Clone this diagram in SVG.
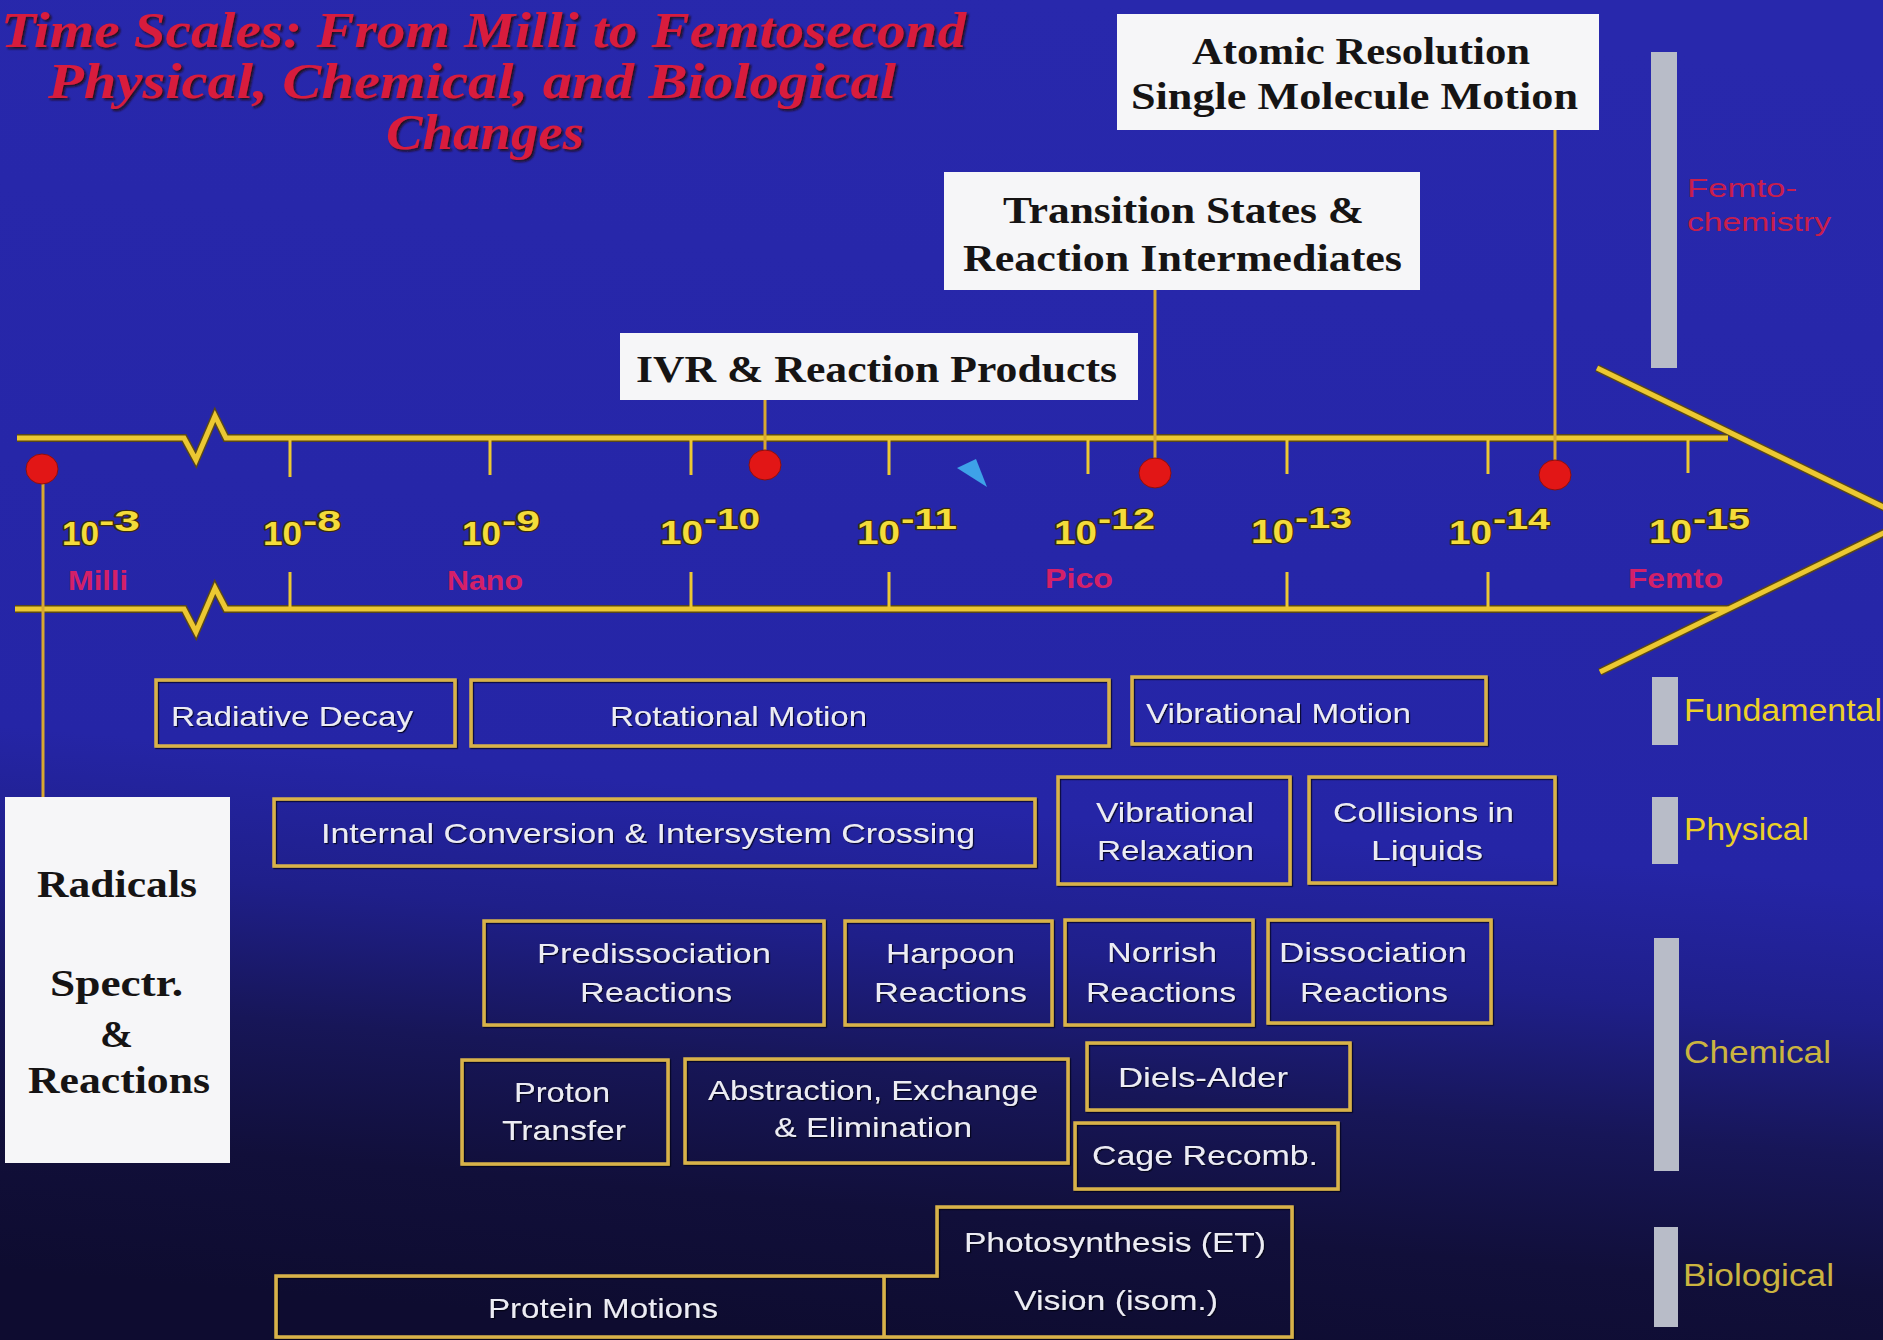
<svg xmlns="http://www.w3.org/2000/svg" width="1883" height="1340" viewBox="0 0 1883 1340">
<defs>
<linearGradient id="bg" x1="0.56" y1="0" x2="0.44" y2="1">
<stop offset="0" stop-color="#2828ac"/>
<stop offset="0.6" stop-color="#2525a6"/>
<stop offset="0.7" stop-color="#1f1f8a"/>
<stop offset="0.8" stop-color="#171658"/>
<stop offset="0.9" stop-color="#110f3a"/>
<stop offset="1" stop-color="#0e0c30"/>
</linearGradient>
<filter id="sh" x="-5%" y="-20%" width="110%" height="140%">
<feDropShadow dx="2" dy="2" stdDeviation="0.8" flood-color="#1a0810" flood-opacity="0.9"/>
</filter>
<filter id="tsh" x="-5%" y="-20%" width="110%" height="140%">
<feDropShadow dx="1.2" dy="1.2" stdDeviation="0.6" flood-color="#000010" flood-opacity="0.8"/>
</filter>
<style>
.title{font-family:"Liberation Serif","Times New Roman",serif;font-weight:bold;font-style:italic;font-size:50px;fill:#d81c3c}
.wb{fill:#f6f6f8}
.wt{font-family:"Liberation Serif","Times New Roman",serif;font-weight:bold;font-size:38px;fill:#161414}
.rt{font-family:"Liberation Serif","Times New Roman",serif;font-weight:bold;font-size:37px;fill:#161414}
.bx{fill:none;stroke:#d8b24a;stroke-width:3.5}
.bt{font-family:"Liberation Sans",Arial,sans-serif;font-size:28px;fill:#ececf4}
.tlo{fill:none;stroke:#5a4818;stroke-width:8;stroke-linejoin:miter}
.tl{fill:none;stroke:#ecc832;stroke-width:5;stroke-linejoin:miter}
.tick{stroke:#ecc832;stroke-width:3}
.conn{stroke:#d8a830;stroke-width:3;fill:none}
.dot{fill:#e21616;stroke:#8a1010;stroke-width:1}
.exp{font-family:"Liberation Sans",Arial,sans-serif;font-weight:bold;font-size:34px;fill:#f4dc3a;stroke:#3a2c10;stroke-width:2.5;paint-order:stroke;stroke-linejoin:round}
.sup{font-size:29px}
.unit{font-family:"Liberation Sans",Arial,sans-serif;font-weight:bold;font-size:28px;fill:#d42068}
.cat{font-family:"Liberation Sans",Arial,sans-serif;font-size:32px;fill:#ecd028}
.catd{font-family:"Liberation Sans",Arial,sans-serif;font-size:32px;fill:#cbb440}
.fc{font-family:"Liberation Sans",Arial,sans-serif;font-size:26px;fill:#c81e4c}
.bar{fill:#b8bcc8}
</style>
</defs>
<rect x="0" y="0" width="1883" height="1340" fill="url(#bg)"/>

<g id="title" filter="url(#sh)">
<text class="title" x="1" y="47" textLength="965" lengthAdjust="spacingAndGlyphs">Time Scales: From Milli to Femtosecond</text>
<text class="title" x="48" y="98" textLength="848" lengthAdjust="spacingAndGlyphs">Physical, Chemical, and Biological</text>
<text class="title" x="386" y="149" textLength="198" lengthAdjust="spacingAndGlyphs">Changes</text>
</g>

<g id="timeline">
<path class="tlo" d="M17 438 H184 L196 460 L215 416 L226 438 H1728"/>
<path class="tlo" d="M15 609 H184 L196 632 L215 588 L226 609 H1728"/>
<path class="tlo" d="M1597 368 L1910 520 L1600 672"/>
<path class="tl" d="M17 438 H184 L196 460 L215 416 L226 438 H1728"/>
<path class="tl" d="M15 609 H184 L196 632 L215 588 L226 609 H1728"/>
<path class="tl" d="M1597 368 L1910 520 L1600 672"/>
<g class="tick">
<line x1="290" y1="438" x2="290" y2="477"/>
<line x1="490" y1="438" x2="490" y2="475"/>
<line x1="691" y1="438" x2="691" y2="475"/>
<line x1="889" y1="438" x2="889" y2="475"/>
<line x1="1088" y1="438" x2="1088" y2="474"/>
<line x1="1287" y1="438" x2="1287" y2="474"/>
<line x1="1488" y1="438" x2="1488" y2="474"/>
<line x1="1688" y1="438" x2="1688" y2="473"/>
<line x1="290" y1="572" x2="290" y2="609"/>
<line x1="691" y1="572" x2="691" y2="609"/>
<line x1="889" y1="572" x2="889" y2="609"/>
<line x1="1287" y1="572" x2="1287" y2="609"/>
<line x1="1488" y1="572" x2="1488" y2="609"/>
</g>
<g id="scale-labels" class="exp">
<text x="62" y="545" textLength="37" lengthAdjust="spacingAndGlyphs">10</text><text class="sup" x="99" y="531" textLength="41" lengthAdjust="spacingAndGlyphs">-3</text>
<text x="263" y="545" textLength="39" lengthAdjust="spacingAndGlyphs">10</text><text class="sup" x="303" y="531" textLength="38" lengthAdjust="spacingAndGlyphs">-8</text>
<text x="462" y="545" textLength="39" lengthAdjust="spacingAndGlyphs">10</text><text class="sup" x="502" y="531" textLength="38" lengthAdjust="spacingAndGlyphs">-9</text>
<text x="660" y="544" textLength="43" lengthAdjust="spacingAndGlyphs">10</text><text class="sup" x="704" y="529" textLength="56" lengthAdjust="spacingAndGlyphs">-10</text>
<text x="857" y="544" textLength="43" lengthAdjust="spacingAndGlyphs">10</text><text class="sup" x="901" y="529" textLength="56" lengthAdjust="spacingAndGlyphs">-11</text>
<text x="1054" y="544" textLength="43" lengthAdjust="spacingAndGlyphs">10</text><text class="sup" x="1098" y="529" textLength="57" lengthAdjust="spacingAndGlyphs">-12</text>
<text x="1251" y="543" textLength="43" lengthAdjust="spacingAndGlyphs">10</text><text class="sup" x="1295" y="528" textLength="57" lengthAdjust="spacingAndGlyphs">-13</text>
<text x="1449" y="544" textLength="43" lengthAdjust="spacingAndGlyphs">10</text><text class="sup" x="1493" y="529" textLength="57" lengthAdjust="spacingAndGlyphs">-14</text>
<text x="1649" y="543" textLength="43" lengthAdjust="spacingAndGlyphs">10</text><text class="sup" x="1693" y="529" textLength="57" lengthAdjust="spacingAndGlyphs">-15</text>
</g>
<g id="unit-labels" class="unit">
<text x="68" y="590" textLength="60" lengthAdjust="spacingAndGlyphs">Milli</text>
<text x="447" y="590" textLength="76" lengthAdjust="spacingAndGlyphs">Nano</text>
<text x="1045" y="588" textLength="68" lengthAdjust="spacingAndGlyphs">Pico</text>
<text x="1628" y="588" textLength="95" lengthAdjust="spacingAndGlyphs">Femto</text>
</g>
<polygon points="957,468 976,459 987,487" fill="#3ea2e8"/>
</g>

<g id="connectors" class="conn">
<line x1="43" y1="469" x2="43" y2="797"/>
<line x1="765" y1="400" x2="765" y2="465"/>
<line x1="1155" y1="290" x2="1155" y2="473"/>
<line x1="1555" y1="130" x2="1555" y2="475"/>
</g>

<g id="dots">
<ellipse class="dot" cx="42" cy="469" rx="16" ry="15"/>
<ellipse class="dot" cx="765" cy="465" rx="16" ry="15"/>
<ellipse class="dot" cx="1155" cy="473" rx="16" ry="15"/>
<ellipse class="dot" cx="1555" cy="475" rx="16" ry="15"/>
</g>

<g id="node-atomic">
<rect class="wb" x="1117" y="14" width="482" height="116"/>
<text class="wt" x="1192" y="64" textLength="338" lengthAdjust="spacingAndGlyphs">Atomic Resolution</text>
<text class="wt" x="1131" y="109" textLength="447" lengthAdjust="spacingAndGlyphs">Single Molecule Motion</text>
</g>
<g id="node-transition">
<rect class="wb" x="944" y="172" width="476" height="118"/>
<text class="wt" x="1003" y="223" textLength="361" lengthAdjust="spacingAndGlyphs">Transition States &amp;</text>
<text class="wt" x="963" y="271" textLength="439" lengthAdjust="spacingAndGlyphs">Reaction Intermediates</text>
</g>
<g id="node-ivr">
<rect class="wb" x="620" y="333" width="518" height="67"/>
<text class="wt" x="636" y="382" textLength="481" lengthAdjust="spacingAndGlyphs">IVR &amp; Reaction Products</text>
</g>
<g id="node-radicals">
<rect class="wb" x="5" y="797" width="225" height="366"/>
<text class="rt" x="37" y="897" textLength="160" lengthAdjust="spacingAndGlyphs">Radicals</text>
<text class="rt" x="50" y="996" textLength="133" lengthAdjust="spacingAndGlyphs">Spectr.</text>
<text class="rt" x="100" y="1047" textLength="33" lengthAdjust="spacingAndGlyphs">&amp;</text>
<text class="rt" x="28" y="1093" textLength="182" lengthAdjust="spacingAndGlyphs">Reactions</text>
</g>

<g id="node-femtochemistry">
<rect class="bar" x="1651" y="52" width="26" height="316"/>
<text class="fc" x="1687" y="197" textLength="110" lengthAdjust="spacingAndGlyphs">Femto-</text>
<text class="fc" x="1687" y="231" textLength="144" lengthAdjust="spacingAndGlyphs">chemistry</text>
</g>
<g id="node-fundamental">
<rect class="bar" x="1652" y="677" width="26" height="68"/>
<text class="cat" x="1684" y="721" textLength="198" lengthAdjust="spacingAndGlyphs">Fundamental</text>
</g>
<g id="node-physical">
<rect class="bar" x="1652" y="797" width="26" height="67"/>
<text class="cat" x="1684" y="840" textLength="125" lengthAdjust="spacingAndGlyphs">Physical</text>
</g>
<g id="node-chemical">
<rect class="bar" x="1654" y="938" width="25" height="233"/>
<text class="catd" x="1684" y="1063" textLength="147" lengthAdjust="spacingAndGlyphs">Chemical</text>
</g>
<g id="node-biological">
<rect class="bar" x="1654" y="1227" width="24" height="100"/>
<text class="catd" x="1683" y="1286" textLength="151" lengthAdjust="spacingAndGlyphs">Biological</text>
</g>

<g id="node-radiative-decay" filter="url(#tsh)">
<rect class="bx" x="156" y="680" width="299" height="66"/>
<text class="bt" x="171" y="726" textLength="242" lengthAdjust="spacingAndGlyphs">Radiative Decay</text>
</g>
<g id="node-rotational-motion" filter="url(#tsh)">
<rect class="bx" x="471" y="680" width="638" height="66"/>
<text class="bt" x="610" y="726" textLength="257" lengthAdjust="spacingAndGlyphs">Rotational Motion</text>
</g>
<g id="node-vibrational-motion" filter="url(#tsh)">
<rect class="bx" x="1132" y="677" width="354" height="67"/>
<text class="bt" x="1146" y="723" textLength="265" lengthAdjust="spacingAndGlyphs">Vibrational Motion</text>
</g>

<g id="node-internal-conversion" filter="url(#tsh)">
<rect class="bx" x="274" y="799" width="761" height="67"/>
<text class="bt" x="321" y="843" textLength="654" lengthAdjust="spacingAndGlyphs">Internal Conversion &amp; Intersystem Crossing</text>
</g>
<g id="node-vibrational-relaxation" filter="url(#tsh)">
<rect class="bx" x="1058" y="777" width="232" height="107"/>
<text class="bt" x="1096" y="822" textLength="158" lengthAdjust="spacingAndGlyphs">Vibrational</text>
<text class="bt" x="1097" y="860" textLength="157" lengthAdjust="spacingAndGlyphs">Relaxation</text>
</g>
<g id="node-collisions" filter="url(#tsh)">
<rect class="bx" x="1309" y="777" width="246" height="106"/>
<text class="bt" x="1333" y="822" textLength="181" lengthAdjust="spacingAndGlyphs">Collisions in</text>
<text class="bt" x="1371" y="860" textLength="112" lengthAdjust="spacingAndGlyphs">Liquids</text>
</g>

<g id="node-predissociation" filter="url(#tsh)">
<rect class="bx" x="484" y="921" width="340" height="104"/>
<text class="bt" x="537" y="963" textLength="234" lengthAdjust="spacingAndGlyphs">Predissociation</text>
<text class="bt" x="580" y="1002" textLength="152" lengthAdjust="spacingAndGlyphs">Reactions</text>
</g>
<g id="node-harpoon" filter="url(#tsh)">
<rect class="bx" x="845" y="921" width="207" height="104"/>
<text class="bt" x="886" y="963" textLength="129" lengthAdjust="spacingAndGlyphs">Harpoon</text>
<text class="bt" x="874" y="1002" textLength="153" lengthAdjust="spacingAndGlyphs">Reactions</text>
</g>
<g id="node-norrish" filter="url(#tsh)">
<rect class="bx" x="1065" y="920" width="188" height="105"/>
<text class="bt" x="1107" y="962" textLength="110" lengthAdjust="spacingAndGlyphs">Norrish</text>
<text class="bt" x="1086" y="1002" textLength="150" lengthAdjust="spacingAndGlyphs">Reactions</text>
</g>
<g id="node-dissociation" filter="url(#tsh)">
<rect class="bx" x="1268" y="920" width="223" height="103"/>
<text class="bt" x="1279" y="962" textLength="188" lengthAdjust="spacingAndGlyphs">Dissociation</text>
<text class="bt" x="1300" y="1002" textLength="148" lengthAdjust="spacingAndGlyphs">Reactions</text>
</g>

<g id="node-proton-transfer" filter="url(#tsh)">
<rect class="bx" x="462" y="1060" width="206" height="104"/>
<text class="bt" x="514" y="1102" textLength="96" lengthAdjust="spacingAndGlyphs">Proton</text>
<text class="bt" x="502" y="1140" textLength="124" lengthAdjust="spacingAndGlyphs">Transfer</text>
</g>
<g id="node-abstraction" filter="url(#tsh)">
<rect class="bx" x="685" y="1059" width="383" height="104"/>
<text class="bt" x="708" y="1100" textLength="330" lengthAdjust="spacingAndGlyphs">Abstraction, Exchange</text>
<text class="bt" x="774" y="1137" textLength="198" lengthAdjust="spacingAndGlyphs">&amp; Elimination</text>
</g>
<g id="node-diels-alder" filter="url(#tsh)">
<rect class="bx" x="1087" y="1043" width="263" height="67"/>
<text class="bt" x="1118" y="1087" textLength="170" lengthAdjust="spacingAndGlyphs">Diels-Alder</text>
</g>
<g id="node-cage-recomb" filter="url(#tsh)">
<rect class="bx" x="1075" y="1123" width="263" height="66"/>
<text class="bt" x="1092" y="1165" textLength="226" lengthAdjust="spacingAndGlyphs">Cage Recomb.</text>
</g>

<g id="node-biological-processes" filter="url(#tsh)">
<path class="bx" d="M276 1337 V1276 H937 V1207 H1292 V1337 Z"/>
<line class="bx" x1="884" y1="1276" x2="884" y2="1337"/>
<text class="bt" x="488" y="1318" textLength="230" lengthAdjust="spacingAndGlyphs">Protein Motions</text>
<text class="bt" x="964" y="1252" textLength="302" lengthAdjust="spacingAndGlyphs">Photosynthesis (ET)</text>
<text class="bt" x="1014" y="1310" textLength="204" lengthAdjust="spacingAndGlyphs">Vision (isom.)</text>
</g>
</svg>
